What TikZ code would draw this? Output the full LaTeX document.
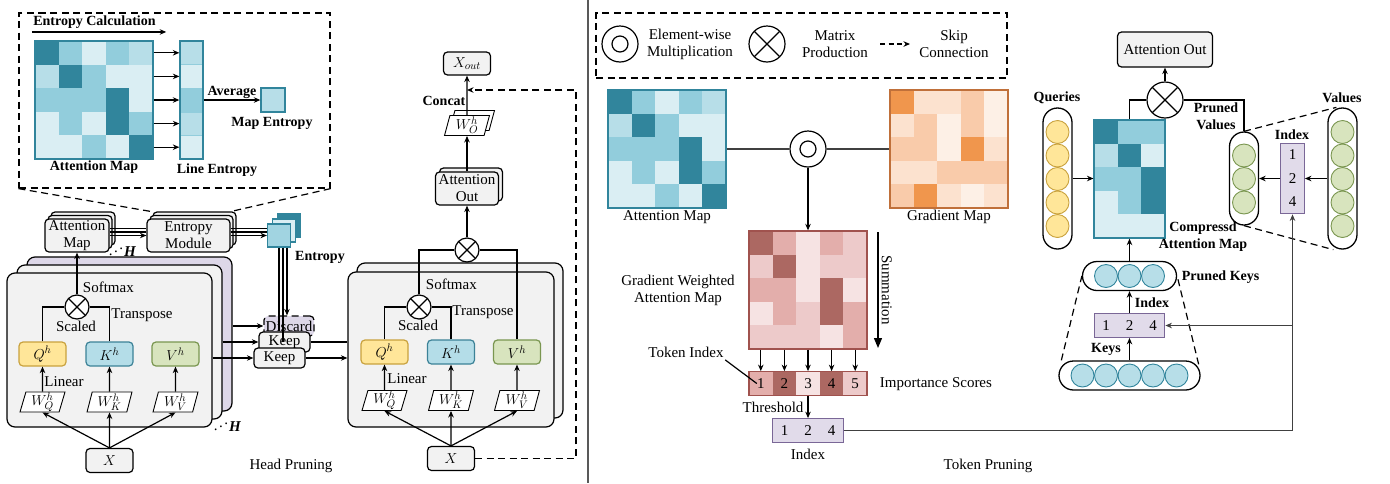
\documentclass[tikz,border=0pt]{standalone}
\usepackage{fontspec}
\setmainfont{Liberation Serif}
\usetikzlibrary{arrows.meta, shapes.geometric, shadows}

\definecolor{tealD}{HTML}{31859C}
\definecolor{tealM}{HTML}{92CDDC}
\definecolor{tealL}{HTML}{B7DEE8}
\definecolor{tealV}{HTML}{DAEEF3}
\definecolor{orD}{HTML}{F0964D}
\definecolor{orM}{HTML}{F9CBAA}
\definecolor{orL}{HTML}{FCE2CF}
\definecolor{orV}{HTML}{FDF0E6}
\definecolor{orB}{HTML}{C0703A}
\definecolor{rdD}{HTML}{AC6862}
\definecolor{rdM}{HTML}{E3AEAB}
\definecolor{rdL}{HTML}{EDCACA}
\definecolor{rdV}{HTML}{F6E3E3}
\definecolor{rdB}{HTML}{A0524E}
\definecolor{idxF}{HTML}{E1DBEA}
\definecolor{idxB}{HTML}{7A6797}
\definecolor{boxF}{HTML}{F2F2F2}
\definecolor{lavF}{HTML}{DDD7E8}
\definecolor{qF}{HTML}{FFE699}
\definecolor{qB}{HTML}{C9A23E}
\definecolor{kF}{HTML}{B4DDE8}
\definecolor{kB}{HTML}{3C8297}
\definecolor{vF}{HTML}{D8E4BE}
\definecolor{vB}{HTML}{7A9650}

\tikzset{
  dashed/.style={dash pattern=on 7pt off 4.5pt},
  box/.style={draw, rounded corners=4pt, fill=boxF, align=center, inner sep=1pt, line width=1.2pt},
  lbl/.style={font=\fontsize{14}{17}\selectfont\bfseries, align=center},
  wbox/.style={trapezium, trapezium left angle=78, trapezium right angle=102,
               trapezium stretches=true, draw, fill=white, line width=0.9pt,
               minimum width=45pt, minimum height=20pt, inner sep=0pt},
  prod/.style={circle, draw, fill=white, inner sep=0pt, minimum size=#1,
               path picture={\draw (path picture bounding box.south west) -- (path picture bounding box.north east)
                                   (path picture bounding box.north west) -- (path picture bounding box.south east);}},
  prod/.default=24pt,
  emul/.style={circle, draw, fill=white, inner sep=0pt, minimum size=36pt,
               path picture={\draw (path picture bounding box.center) circle (8pt);}},
  pill/.style={draw, rounded corners=14.5pt, line width=1.3pt, inner sep=0pt},
  ball/.style={circle, draw, inner sep=0pt, minimum size=23pt, line width=0.9pt},
  cell/.style={inner sep=0pt, minimum width=23.5pt, minimum height=23.5pt},
  frame/.style={draw, inner sep=0pt, line width=1.3pt},
}

\begin{document}
\begin{tikzpicture}[x=1pt, y=-1pt, line width=1.2pt, font=\fontsize{15}{17}\selectfont,
                    >={Stealth[length=6.5pt, width=5.5pt]}]
\useasboundingbox (0,0) rectangle (1390,483);

% ---------------- head pruning: entropy calculation
\node (calcbox) at (174.5,100.5) [draw, dashed, line width=1.2pt, minimum width=311pt, minimum height=175pt] {};
\node (calctitle) at (94.5,22) [lbl, inner sep=1pt] {Entropy Calculation};
\draw [->, line width=1.4pt] ([yshift=-2pt]calctitle.south west) -- ([xshift=9pt, yshift=-2pt]calctitle.south east);

\foreach \c [count=\i from 0] in {tealD,tealM,tealV,tealM,tealL,
    tealL,tealD,tealM,tealV,tealV, tealM,tealM,tealM,tealD,tealV,
    tealV,tealM,tealV,tealD,tealM, tealV,tealV,tealM,tealV,tealD}
  \fill [\c] ({35+23.6*mod(\i,5)}, {41+23.6*int(\i/5)}) rectangle ++(23.6,23.6);
\node (lmap) at (94,100) [frame, draw=tealD, minimum size=118pt] {};

\foreach \c [count=\i from 0] in {tealL,tealV,tealM,tealL,tealV}
  \filldraw [fill=\c, draw=tealM, line width=0.4pt] (180, {41+23.6*\i}) rectangle ++(23,23.6);
\node (lent) at (191.5,100) [frame, draw=tealD, minimum width=23pt, minimum height=118pt] {};

\foreach \dy in {-47.2,-23.6,0,23.6,47.2}
  \draw [->] ([yshift=\dy pt]lmap.east) -- ([yshift=\dy pt]lent.west);

\node (ment) at (273,100) [frame, draw=tealD, fill=tealL, minimum size=24pt] {};
\draw [->] (lent) -- (ment) node [midway, above, lbl, inner sep=1pt] {Average};

\node (lmaplbl) at (94,167) [lbl] {Attention Map};
\node (lentlbl) at (217,170) [lbl] {Line Entropy};
\node (mentlbl) at (272,123) [lbl] {Map Entropy};

\coordinate (zoomL) at (154,212);
\coordinate (zoomR) at (233,211);
\draw [dashed] (calcbox.south west) -- (zoomL);
\draw [dashed] (calcbox.south east) -- (zoomR);

% ---------------- head pruning: stacked heads
\node (amap) at (77,235.5) [box, minimum width=64pt, minimum height=33pt,
    double copy shadow={shadow xshift=3pt, shadow yshift=3.5pt}] {Attention\\Map};
\node (emod) at (188.5,235.5) [box, minimum width=83pt, minimum height=33pt,
    double copy shadow={shadow xshift=3pt, shadow yshift=3.5pt}] {Entropy\\Module};
\node (hlbl1) at (122,249) {\reflectbox{$\ddots$}\textbf{\textit{H}}};

\node (ent3) at (289,225.5) [draw=tealD, fill=tealD, minimum size=23pt, inner sep=0pt] {};
\node (ent2) at (284,230.5) [draw=tealD, fill=tealV, minimum size=23pt, inner sep=0pt] {};
\node (ent) at (279,235.5) [draw=tealD, fill=tealM!60!tealL, minimum size=23pt, inner sep=0pt] {};
\node (entlbl) at (320,257) [lbl] {Entropy};

\foreach \dy in {7,3.5} {
  \draw ([yshift=\dy pt]amap.east) -- ([yshift=\dy pt]emod.west);
  \draw ([yshift=\dy pt]emod.east) -- ([yshift=\dy pt]ent.west);
}
\draw [->] (amap) -- (emod);
\draw [->] (emod) -- (ent);

\node (hb3) at (129.5,334) [box, rounded corners=8pt, fill=lavF, minimum width=205pt, minimum height=154pt] {};
\node (hb2) at (119.5,342) [box, rounded corners=8pt, minimum width=205pt, minimum height=154pt] {};
\node (hb) at (109.5,350) [box, rounded corners=8pt, minimum width=205pt, minimum height=154pt] {};
\node (hlbl2) at (227,424) {\reflectbox{$\ddots$}\textbf{\textit{H}}};

\node (disc) at (289,326) [box, dashed, fill=lavF, minimum width=50pt, minimum height=20pt, inner sep=0pt] {Discard};
\node (keep1) at (284.5,342) [box, minimum width=51pt, minimum height=20pt, inner sep=0pt] {Keep};
\node (keep2) at (279.5,358) [box, minimum width=51pt, minimum height=20pt, inner sep=0pt] {Keep};

\draw [->] ([xshift=8pt]ent.south) -- ([xshift=8pt]ent.south |- disc.north);
\draw ([xshift=4pt]ent.south) -- ([xshift=4pt]ent.south |- keep1.center);
\draw (ent.south) -- (ent.south |- keep1.north);

\draw [->] (hb3.east |- disc) -- (disc);
\draw [->] (hb2.east |- keep1) -- (keep1);
\draw [->] (hb.east |- keep2) -- (keep2);

\begin{scope}[every node/.style={box, minimum width=47pt, minimum height=24pt}]
  \node (lq) at (42.5,354) [fill=qF, draw=qB] {$Q^h$};
  \node (lk) at (109.5,354) [fill=kF, draw=kB] {$K^h$};
  \node (lv) at (175.5,354) [fill=vF, draw=vB] {$V^h$};
  \node (lx) at (109.5,460.5) {$X$};
\end{scope}
\node (lwq) at (42.5,402) [wbox] {$W_Q^h$};
\node (lwk) at (109.5,402) [wbox] {$W_K^h$};
\node (lwv) at (175.5,402) [wbox] {$W_V^h$};
\node (lsm) at (77,307) [prod] {};
\node (lsmlbl) at (79,287) [anchor=west] {Softmax};
\node (lsc) at (76,326) {Scaled};
\node (ltr) at (142,315) {Transpose};
\node (llin) at (64,382) {Linear};

\draw (lq) |- (lsm);
\draw (lk) |- (lsm);
\draw [->] (lsm) -- (amap);
\draw [->] (lwq) -- (lq);
\draw [->] (lwk) -- (lk);
\draw [->] (lwv) -- (lv);
\draw [->] (lx.north) -- (lwq.south);
\draw [->] (lx.north) -- (lwk.south);
\draw [->] (lx.north) -- (lwv.south);

% ---------------- head pruning: pruned heads
\node (mb2) at (460,340.5) [box, rounded corners=8pt, minimum width=206pt, minimum height=155pt] {};
\node (mb) at (451,349.5) [box, rounded corners=8pt, minimum width=206pt, minimum height=155pt] {};
\draw (keep1) -- (keep1 -| mb.west);
\draw [->] (keep2) -- (keep2 -| mb.west);

\begin{scope}[every node/.style={box, minimum width=47pt, minimum height=24pt}]
  \node (mq) at (384.5,352) [fill=qF, draw=qB] {$Q^h$};
  \node (mk) at (451,352) [fill=kF, draw=kB] {$K^h$};
  \node (mv) at (517,352) [fill=vF, draw=vB] {$V^h$};
  \node (mx) at (451,458.5) {$X$};
  \node (xout) at (467,63.5) [minimum height=23pt] {$X_{out}$};
\end{scope}
\node (mwq) at (384.5,400.5) [wbox] {$W_Q^h$};
\node (mwk) at (451,400.5) [wbox] {$W_K^h$};
\node (mwv) at (517,400.5) [wbox] {$W_V^h$};
\node (msm) at (419,307) [prod] {};
\node (msmlbl) at (422,284) [anchor=west] {Softmax};
\node (msc) at (418,325) {Scaled};
\node (mtr) at (483,312) {Transpose};
\node (mlin) at (407,379) {Linear};
\node (mout) at (467,250) [prod] {};
\node (aout) at (467,188.5) [box, minimum width=63pt, minimum height=33pt,
    copy shadow={shadow xshift=4pt, shadow yshift=4pt}] {Attention\\Out};
\node (wo) at (467,125.5) [wbox, copy shadow={shadow xshift=5pt, shadow yshift=5pt}] {$W_O^h$};
\node (concat) at (444,101) [lbl] {Concat};
\coordinate (skip) at (576,90);

\draw (mq) |- (msm);
\draw (mk) |- (msm);
\draw (msm) |- (mout);
\draw (mv) |- (mout);
\draw [->] (mwq) -- (mq);
\draw [->] (mwk) -- (mk);
\draw [->] (mwv) -- (mv);
\draw [->] (mx.north) -- (mwq.south);
\draw [->] (mx.north) -- (mwk.south);
\draw [->] (mx.north) -- (mwv.south);
\draw [->] (mout) -- (aout);
\draw [->] (aout) -- (wo);
\draw [->] (wo) -- (xout);
\draw [->, dashed] (mx) -| (skip) -- (skip -| xout);

\node (hplbl) at (291,466) {Head Pruning};

\draw [black!65, line width=1.5pt] (588,0) -- (588,483);

% ---------------- token pruning: legend
\node (legend) at (801.5,45.5) [draw, dashed, line width=1.2pt, minimum width=411pt, minimum height=65pt] {};
\node (lgdot) at (620,44) [emul] {};
\node (lgdottxt) at (690,44) [align=center] {Element-wise\\Multiplication};
\node (lgprod) at (767,44) [prod=36pt] {};
\node (lgprodtxt) at (835,44) [align=center] {Matrix\\Production};
\coordinate (lga) at (880,44);
\coordinate (lgb) at (910,44);
\draw [->, dash pattern=on 5pt off 3.5pt] (lga) -- (lgb);
\node (lgskip) at (954,44) [align=center] {Skip\\Connection};

% ---------------- token pruning: maps
\foreach \c [count=\i from 0] in {tealD,tealM,tealV,tealM,tealL,
    tealL,tealD,tealM,tealV,tealV, tealM,tealM,tealM,tealD,tealV,
    tealV,tealM,tealV,tealD,tealM, tealV,tealV,tealM,tealV,tealD}
  \fill [\c] ({608+23.6*mod(\i,5)}, {90+23.6*int(\i/5)}) rectangle ++(23.6,23.6);
\node (bmap) at (667,149) [frame, draw=tealD, minimum size=118pt] {};
\node (bmaplbl) at (667,217) {Attention Map};

\foreach \c [count=\i from 0] in {orD,orL,orL,orM,orV,
    orL,orM,orV,orM,orV, orM,orM,orV,orD,orL,
    orL,orL,orM,orM,orM, orM,orD,orL,orV,orL}
  \fill [\c] ({890+23.6*mod(\i,5)}, {90+23.6*int(\i/5)}) rectangle ++(23.6,23.6);
\node (gmap) at (949,149) [frame, draw=orB, minimum size=118pt] {};
\node (gmaplbl) at (949,217) {Gradient Map};

\node (ewm) at (808,149) [emul] {};
\draw [black!75] (bmap) -- (ewm);
\draw [black!75] (ewm) -- (gmap);

\foreach \c [count=\i from 0] in {rdD,rdM,rdV,rdM,rdL,
    rdL,rdD,rdV,rdL,rdL, rdM,rdM,rdV,rdD,rdV,
    rdV,rdM,rdL,rdD,rdM, rdL,rdL,rdL,rdV,rdM}
  \fill [\c] ({749+23.6*mod(\i,5)}, {231+23.6*int(\i/5)}) rectangle ++(23.6,23.6);
\node (wmap) at (808,290) [frame, draw=rdB, minimum size=118pt] {};
\node (wmaplbl) at (678,290) [align=center] {Gradient Weighted\\Attention Map};
\draw [->] (ewm) -- (wmap);

\coordinate (suma) at (878,232);
\coordinate (sumb) at (878,348);
\draw [-{Triangle[length=10pt, width=8pt]}, line width=1.3pt] (suma) -- (sumb)
  node [midway, rotate=-90, anchor=south, inner sep=3pt] {Summation};

\foreach \n/\c [count=\i] in {1/rdM,2/rdD,3/rdV,4/rdD,5/rdL}
  \node (s\i) at ({749+23.6*\i-11.8},383.5) [cell, fill=\c] {\n};
\node (scores) at (808,383.5) [frame, draw=rdB, minimum width=118pt, minimum height=23.5pt] {};
\node (implbl) at (876,384) [anchor=west] {Importance Scores};
\node (tilbl) at (686,352) [inner sep=1pt] {Token Index};
\draw ([yshift=-1pt]tilbl.south east) -- ([xshift=-4pt]s1.center);
\foreach \dx in {-47.2,-23.6,0,23.6,47.2}
  \draw [->] ([xshift=\dx pt]wmap.south) -- ([xshift=\dx pt]scores.north);

\foreach \n [count=\i] in {1,2,4}
  \node (t\i) at ({808+23.5*(\i-2)},430.5) [cell, fill=idxF] {\n};
\node (idx) at (808,430.5) [frame, draw=idxB, minimum width=70.5pt, minimum height=23.5pt] {};
\node (thlbl) at (773,407) {Threshold};
\node (idxlbl) at (808,454) {Index};
\draw [->] (scores) -- (idx);

\node (tplbl) at (988,466) {Token Pruning};

% ---------------- token pruning: pruned attention
\node (aout2) at (1165,49.5) [box, minimum width=95pt, minimum height=35pt] {Attention Out};
\node (rprod) at (1165,100) [prod=36pt] {};
\draw [->] (rprod) -- (aout2);

\foreach \c [count=\i from 0] in {tealD,tealM,tealM, tealL,tealD,tealV,
    tealM,tealM,tealD, tealV,tealM,tealD, tealV,tealV,tealV}
  \fill [\c] ({1094.1+23.6*mod(\i,3)}, {120+23.6*int(\i/3)}) rectangle ++(23.6,23.6);
\node (cmap) at (1129.5,179) [frame, draw=tealD, minimum width=70.8pt, minimum height=118pt] {};
\node (cmaplbl) at (1203,236.5) [lbl] {Compressd\\Attention Map};

\node (qpill) at (1057.5,178.5) [pill, minimum width=29pt, minimum height=141pt] {};
\foreach \i in {1,...,5}
  \node (q\i) at (1057.5,{108.5+23.5*\i}) [ball, fill=qF, draw=qB] {};
\node (qlbl) at (1057,98) [lbl] {Queries};

\node (vpill) at (1342.5,178.5) [pill, minimum width=29pt, minimum height=141pt] {};
\foreach \i in {1,...,5}
  \node (v\i) at (1342.5,{108.5+23.5*\i}) [ball, fill=vF, draw=vB] {};
\node (vlbl) at (1342,98) [lbl] {Values};

\foreach \n [count=\i] in {1,2,4}
  \node (vi\i) at (1292.5,{178.5+23.5*(\i-2)}) [cell, fill=idxF] {\n};
\node (vidx) at (1292.5,178.5) [frame, draw=idxB, minimum width=23.5pt, minimum height=70.5pt] {};
\node (vidxlbl) at (1292,135) [lbl] {Index};

\node (pvpill) at (1244,178.5) [pill, minimum width=29pt, minimum height=93pt] {};
\foreach \i in {1,2,3}
  \node (pv\i) at (1244,{132+23.5*\i}) [ball, fill=vF, draw=vB] {};
\node (pvlbl) at (1216,116) [lbl] {Pruned\\Values};

\node (pkpill) at (1129.5,276) [pill, minimum width=94pt, minimum height=29pt] {};
\foreach \i in {1,2,3}
  \node (pk\i) at ({1129.5+23.5*(\i-2)},276) [ball, fill=tealL, draw=tealD] {};
\node (pklbl) at (1178,277) [lbl, anchor=west] {Pruned Keys};

\foreach \n [count=\i] in {1,2,4}
  \node (ki\i) at ({1129.5+23.5*(\i-2)},325.5) [cell, fill=idxF] {\n};
\node (kidx) at (1129.5,325.5) [frame, draw=idxB, minimum width=70.5pt, minimum height=23.5pt] {};
\node (kidxlbl) at (1152,303) [lbl] {Index};

\node (kpill) at (1129.5,375.5) [pill, minimum width=141pt, minimum height=29pt] {};
\foreach \i in {1,...,5}
  \node (k\i) at ({1129.5+23.5*(\i-3)},375.5) [ball, fill=tealL, draw=tealD] {};
\node (klbl) at (1106,349) [lbl] {Keys};

\draw (rprod) -| (cmap);
\draw (rprod) -| (pvpill);
\draw [->] (qpill) -- (qpill -| cmap.west);
\draw [->] (pkpill) -- (cmap);
\draw [->] (kidx) -- (pkpill);
\draw [->] (kpill) -- (kidx);
\draw [->] (vpill) -- (vidx);
\draw [->] (vidx) -- (pvpill);

\draw [dashed] ([xshift=3pt]kpill.north west) -- (pkpill.west);
\draw [dashed] ([xshift=-2pt, yshift=-4pt]kpill.north east) -- (pkpill.east);
\draw [dashed] (pvpill.north) -- ([xshift=9pt]vpill.north west);
\draw [dashed] (pvpill.south) -- ([xshift=6pt]vpill.south west);

\draw [->, black!75, line width=1.4pt] (idx) -| (vidx);
\draw [->, black!75, line width=1.4pt] (vidx |- kidx) -- (kidx);
\end{tikzpicture}
\end{document}
